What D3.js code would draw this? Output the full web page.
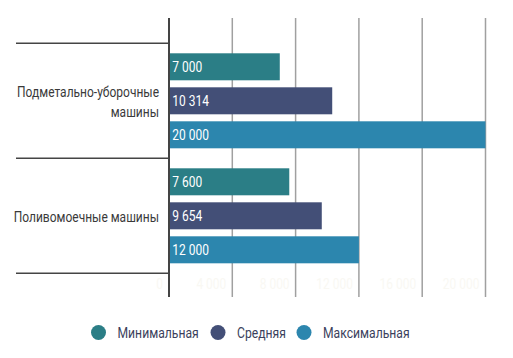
<!DOCTYPE html>
<html><head><meta charset="utf-8">
<script src="https://cdn.jsdelivr.net/npm/d3@7"></script>
<style>
body{margin:0;background:#fff;}
text{font-family:"Roboto","Noto Sans",sans-serif;}
</style></head>
<body><svg id="c" width="513" height="358"></svg>
<script>
const categories = [["Подметально-уборочные","машины"],["Поливомоечные машины"]];
const categoryKeys = ["Подметально-уборочные машины","Поливомоечные машины"];
const seriesNames = ["Минимальная","Средняя","Максимальная"];
const minimal = [7000, 7600];
const average = [10314, 9654];
const maximal = [20000, 12000];
const tickValues = [0,4000,8000,12000,16000,20000];
const colors = ["#2b7e86","#434f77","#2c86ae"];

const series = [minimal, average, maximal];
const svg = d3.select("#c");
const fmt = v => d3.format(",")(v).replace(/,/g," ");

function measure(t, size){
  const n = svg.append("text").attr("font-size",size).text(t);
  const w = n.node().getComputedTextLength(); n.remove(); return w;
}
// narrow text: a group scaled horizontally to mimic a condensed typeface
function narrowText(parent, px, py, str, size, factor, anchor, fill){
  const g = parent.append("g").attr("transform",`translate(${px},${py}) scale(${factor},1)`);
  return g.append("text").attr("x",0).attr("y",0).attr("font-size",size)
    .attr("text-anchor",anchor).attr("fill",fill).text(str);
}
const catFactor = 142 / measure("Подметально-уборочные",15);
const valFactor = 36.7 / measure("10 314",14);
const legFactor = 86.7 / measure("Максимальная",15);

const x = d3.scaleLinear().domain([0,20000]).range([169,485.5]);
const y = d3.scaleBand().domain(categoryKeys).range([43.3,273.3]).padding(0);
const ys = d3.scaleBand().domain(seriesNames).range([0,y.bandwidth()]).paddingInner(0.206).paddingOuter(0.294);

// grid
svg.append("g").selectAll("line").data(tickValues.slice(1)).join("line")
  .attr("x1",d=>x(d)).attr("x2",d=>x(d)).attr("y1",18).attr("y2",297)
  .attr("stroke","#a0a0a0").attr("stroke-width",1.5);
// faint tick labels
const tg = svg.append("g");
tickValues.forEach(d=>narrowText(tg, x(d)-6, 289, fmt(d), 14, valFactor, "end", "#f9f8f3"));

// category separator lines
const seps = [y.range()[0]].concat(categoryKeys.map(k=>y(k)+y.bandwidth()));
svg.append("g").selectAll("line").data(seps).join("line")
  .attr("x1",16).attr("x2",169).attr("y1",d=>d).attr("y2",d=>d)
  .attr("stroke","#444").attr("stroke-width",1.5);

// bars
categoryKeys.forEach((k,ci)=>{
  const g = svg.append("g").attr("transform",`translate(0,${y(k)})`);
  seriesNames.forEach((s,si)=>{
    const v = series[si][ci];
    g.append("rect").attr("x",x(0)).attr("y",ys(s)).attr("width",x(v)-x(0)).attr("height",ys.bandwidth()).attr("fill",colors[si]);
    narrowText(g, x(0)+3.3, ys(s)+ys.bandwidth()/2+5, fmt(v), 14, valFactor, "start", "#fff");
  });
  const lines = categories[ci];
  const cy = y(k)+y.bandwidth()/2+6;
  lines.forEach((tx,li)=>{
    narrowText(svg, 159, cy+(li-(lines.length-1)/2)*20, tx, 15, catFactor, "end", "#3a3a3a");
  });
});

// axis line
svg.append("line").attr("x1",169).attr("x2",169).attr("y1",18).attr("y2",297)
  .attr("stroke","#444").attr("stroke-width",2);

// legend
const legendX = [98.5,218,304];
const lg = svg.append("g");
seriesNames.forEach((s,i)=>{
  lg.append("circle").attr("cx",legendX[i]).attr("cy",332.5).attr("r",7.5).attr("fill",colors[i]);
  narrowText(lg, legendX[i]+19, 338, s, 15, legFactor, "start", "#3b3f5c");
});
</script></body></html>
